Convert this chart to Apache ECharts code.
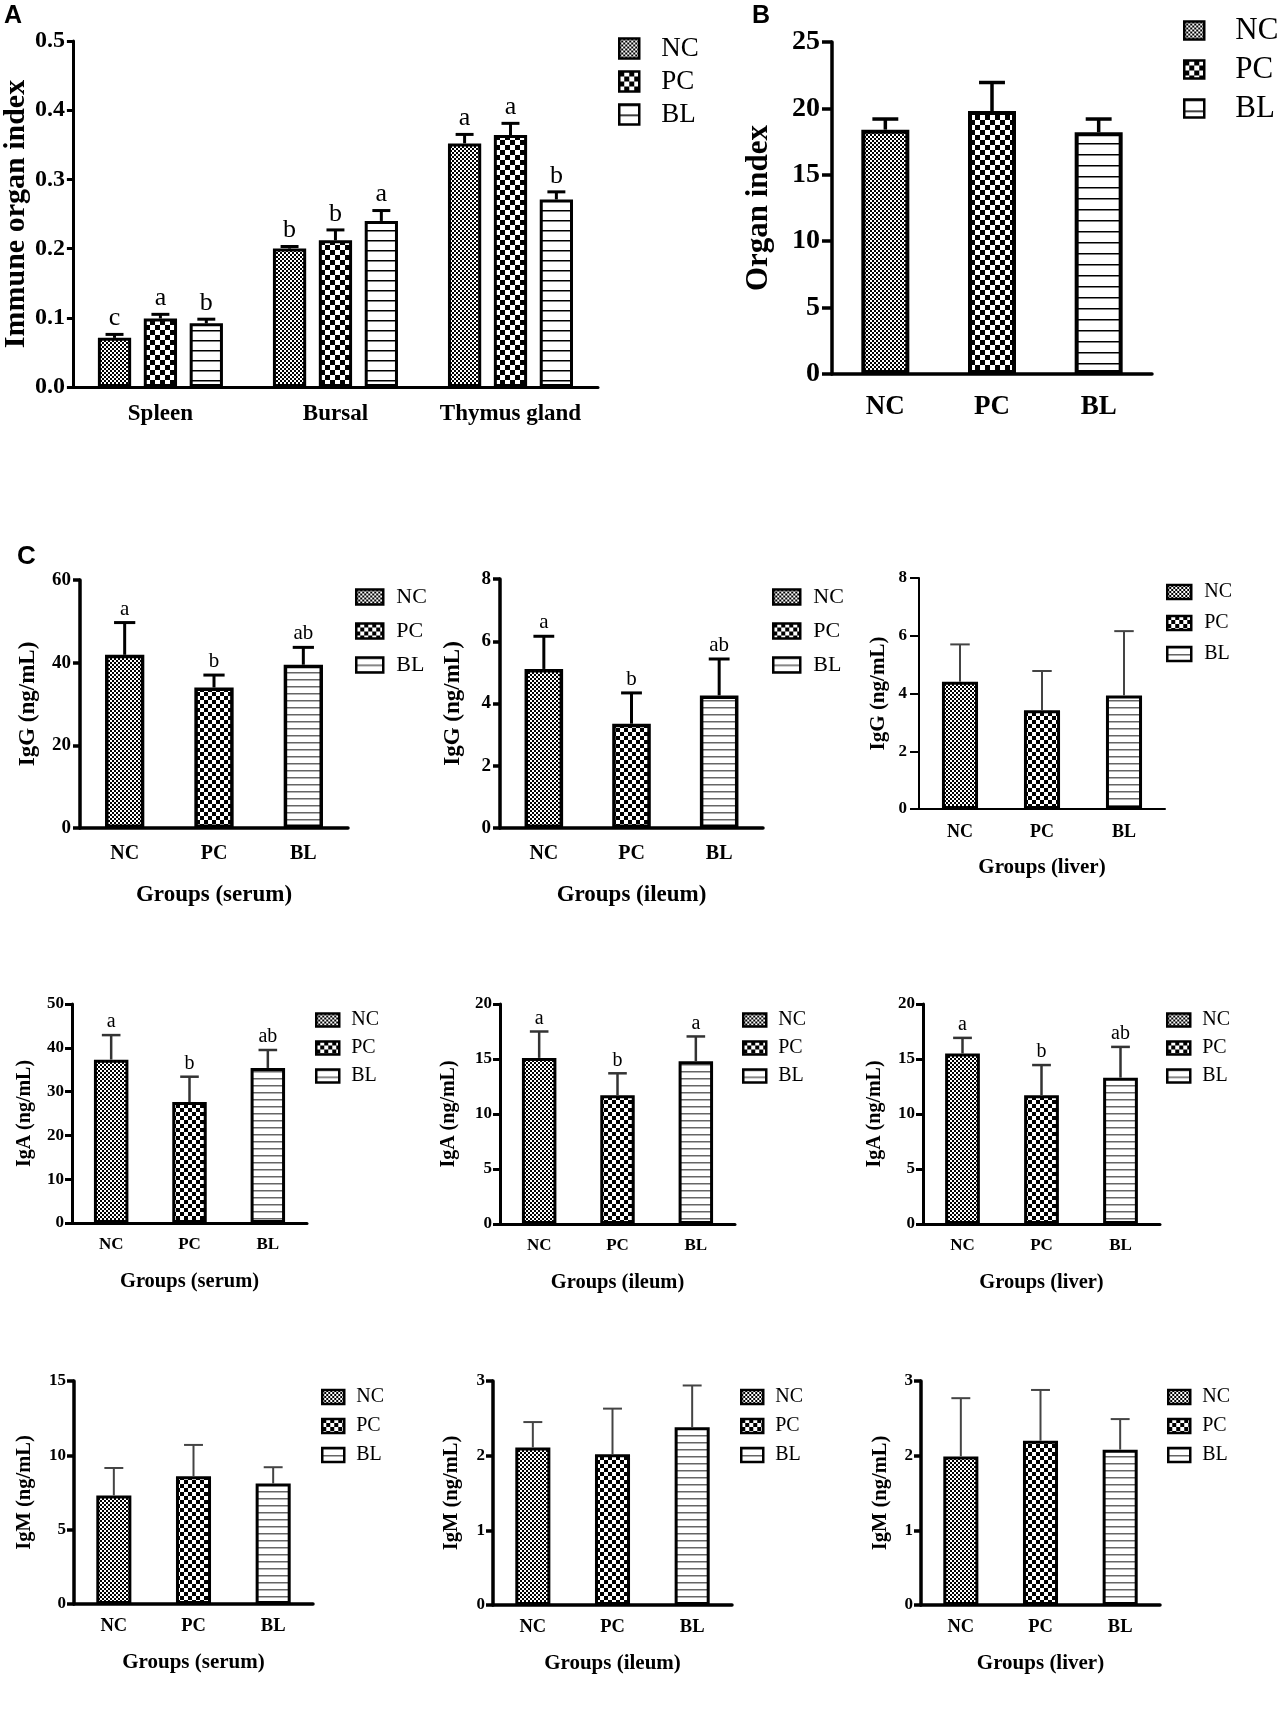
<!DOCTYPE html>
<html>
<head>
<meta charset="utf-8">
<script src="https://cdn.jsdelivr.net/npm/echarts@6/dist/echarts.min.js"></script>
<style>
  html, body { margin: 0; padding: 0; background: #fff; }
  #chart { width: 1280px; height: 1732px; }
</style>
</head>
<body>
<div id="chart"></div>
<script>
// groups and categories
const groups = ['NC', 'PC', 'BL'];
const organs = ['Spleen', 'Bursal', 'Thymus gland'];

// A - immune organ index (spleen, bursal, thymus gland)
const immuneNC = [0.071, 0.200, 0.352];
const immunePC = [0.099, 0.212, 0.364];
const immuneBL = [0.092, 0.240, 0.271];
const immuneErrNC = [0.005, 0.003, 0.013];
const immuneErrPC = [0.006, 0.015, 0.017];
const immuneErrBL = [0.006, 0.015, 0.011];
const immuneLetNC = ['c', 'b', 'a'];
const immuneLetPC = ['a', 'b', 'a'];
const immuneLetBL = ['b', 'a', 'b'];

// B - organ index
const organIdx = [18.4, 19.8, 18.2];
const organErr = [0.8, 2.15, 1.0];

// C - immunoglobulins (NC, PC, BL)
const iggSerum = [41.9, 34.0, 39.5], iggSerumErr = [7.8, 3.0, 4.2], iggSerumLet = ['a', 'b', 'ab'];
const iggIleum = [5.11, 3.35, 4.26], iggIleumErr = [1.05, 0.99, 1.17], iggIleumLet = ['a', 'b', 'ab'];
const iggLiver = [4.41, 3.42, 3.93], iggLiverErr = [1.29, 1.36, 2.23];
const igaSerum = [37.3, 27.6, 35.4], igaSerumErr = [5.6, 5.8, 4.1], igaSerumLet = ['a', 'b', 'ab'];
const igaIleum = [15.1, 11.7, 14.8], igaIleumErr = [2.4, 2.0, 2.25], igaIleumLet = ['a', 'b', 'a'];
const igaLiver = [15.5, 11.7, 13.3], igaLiverErr = [1.42, 2.75, 2.8], igaLiverLet = ['a', 'b', 'ab'];
const igmSerum = [7.3, 8.6, 8.1], igmSerumErr = [1.85, 2.1, 1.1];
const igmIleum = [2.11, 2.02, 2.38], igmIleumErr = [0.34, 0.61, 0.56];
const igmLiver = [1.99, 2.20, 2.08], igmLiverErr = [0.78, 0.68, 0.41];

const SERIF = '"Liberation Serif", "Times New Roman", serif';
const SANS = '"Liberation Sans", Arial, sans-serif';

// fill patterns
function checker(c) {
  const cv = document.createElement('canvas');
  cv.width = cv.height = 2 * c;
  const ctx = cv.getContext('2d');
  ctx.fillStyle = '#fff'; ctx.fillRect(0, 0, 2 * c, 2 * c);
  ctx.fillStyle = '#000'; ctx.fillRect(0, 0, c, c); ctx.fillRect(c, c, c, c);
  return { image: cv, repeat: 'repeat' };
}
function stripes(step, lw, col) {
  const cv = document.createElement('canvas');
  cv.width = 8; cv.height = step;
  const ctx = cv.getContext('2d');
  ctx.fillStyle = '#fff'; ctx.fillRect(0, 0, 8, step);
  ctx.fillStyle = col; ctx.fillRect(0, 0, 8, lw);
  return { image: cv, repeat: 'repeat' };
}
const patA = [checker(2), checker(5), stripes(10, 1.5, '#000')];
const patB = [checker(2), checker(5), stripes(11, 1.5, '#000')];
const patC = [checker(2), checker(4), stripes(7, 1.5, '#666')];

const option = {
  animation: false,
  backgroundColor: '#fff',
  grid: [], xAxis: [], yAxis: [], series: [], legend: [],
  graphic: [
    { type: 'text', left: 4, top: 4, style: { text: 'A', font: 'bold 25px ' + SANS, fill: '#000' } },
    { type: 'text', left: 752, top: 4, style: { text: 'B', font: 'bold 25px ' + SANS, fill: '#000' } },
    { type: 'text', left: 17, top: 544, style: { text: 'C', font: 'bold 26px ' + SANS, fill: '#000' } }
  ]
};

function addAxes(p) {
  const g = option.grid.length;
  const line = { color: '#000', width: p.axisW };
  option.grid.push({ left: p.x0, top: p.y0, width: p.x1 - p.x0, height: p.y1 - p.y0 });
  option.xAxis.push({
    type: 'category', gridIndex: g, data: p.cats,
    name: p.xName || '', nameLocation: 'middle', nameGap: p.xNameGap || 0,
    nameTextStyle: { fontFamily: SERIF, fontWeight: 'bold', fontSize: p.xNameSize || 20, color: '#000' },
    axisLine: { lineStyle: line },
    axisTick: { alignWithLabel: true, length: p.xTick, lineStyle: line },
    axisLabel: { interval: 0, fontFamily: SERIF, fontWeight: 'bold', fontSize: p.catSize, color: '#000', margin: p.catMargin }
  });
  option.yAxis.push({
    type: 'value', gridIndex: g, min: 0, max: p.yMax, interval: p.yStep,
    name: p.yName, nameLocation: 'middle', nameGap: p.yNameGap,
    nameTextStyle: { fontFamily: SERIF, fontWeight: 'bold', fontSize: p.yNameSize, color: '#000' },
    axisLine: { show: true, lineStyle: line },
    axisTick: { show: true, length: p.yTick, lineStyle: line },
    axisLabel: { fontFamily: SERIF, fontWeight: 'bold', fontSize: p.tickSize, color: '#000', margin: p.yMargin, formatter: p.fmt },
    splitLine: { show: false }
  });
  const L = p.leg;
  option.legend.push({
    orient: 'vertical', left: L.left, top: L.top, padding: 0,
    itemWidth: L.w, itemHeight: L.h, itemGap: L.gap, icon: 'rect', selectedMode: false,
    itemStyle: { borderColor: '#000', borderWidth: 2.5 },
    textStyle: { fontFamily: SERIF, fontSize: L.font, color: '#000', padding: [0, 0, 0, L.pad] },
    data: groups.map((n, k) => ({ name: n, itemStyle: { color: p.pats[k] } }))
  });
  return g;
}

// error bars (upper only) plus significance letters
function errorSeries(g, vals, errs, lets, o) {
  return {
    type: 'custom', xAxisIndex: g, yAxisIndex: g, z: 5, silent: true,
    encode: { x: 0, y: 1 },
    data: vals.map((v, i) => [i, v, errs[i]]),
    renderItem: function (params, api) {
      const cat = api.value(0), v = api.value(1), e = api.value(2);
      const band = api.size([1, 0])[0];
      const bw = band * o.frac;
      const base = api.coord([cat, v]);
      const top = api.coord([cat, v + e]);
      const x = base[0] + (o.shift || 0) * bw;
      const half = bw * 0.27;
      const st = { stroke: o.color, lineWidth: o.lw };
      const kids = [
        { type: 'line', shape: { x1: x, y1: base[1], x2: x, y2: top[1] }, style: st },
        { type: 'line', shape: { x1: x - half, y1: top[1], x2: x + half, y2: top[1] }, style: st }
      ];
      if (lets) {
        kids.push({ type: 'text', style: {
          text: lets[params.dataIndex], x: x, y: top[1] - 3,
          align: 'center', verticalAlign: 'bottom',
          fontFamily: SERIF, fontSize: o.letterSize, fill: '#000'
        } });
      }
      return { type: 'group', children: kids };
    }
  };
}

// panel A: grouped bars
(function () {
  const g = addAxes({
    x0: 67, y0: 41, x1: 598, y1: 387, cats: organs, axisW: 3,
    xTick: 12, catSize: 23, catMargin: 16,
    yMax: 0.5, yStep: 0.1, yName: 'Immune organ index', yNameGap: 33, yNameSize: 30,
    yTick: 6, tickSize: 24, yMargin: 8, fmt: v => v.toFixed(1),
    leg: { left: 618, top: 35, w: 20, h: 20, gap: 6, font: 27, pad: 17 }, pats: patA
  });
  const vals = [immuneNC, immunePC, immuneBL];
  const errs = [immuneErrNC, immuneErrPC, immuneErrBL];
  const lets = [immuneLetNC, immuneLetPC, immuneLetBL];
  const frac = 0.19, gap = 0.38;
  groups.forEach((name, k) => {
    option.series.push({
      type: 'bar', name: name, xAxisIndex: g, yAxisIndex: g,
      barWidth: (frac * 100) + '%', barGap: (gap * 100) + '%',
      data: vals[k],
      itemStyle: { color: patA[k], borderColor: '#000', borderWidth: 3 }
    });
  });
  groups.forEach((name, k) => {
    option.series.push(errorSeries(g, vals[k], errs[k], lets[k],
      { frac: frac, shift: (k - 1) * (1 + gap), color: '#000', lw: 3, letterSize: 26 }));
  });
})();

// single-bar-per-group panels
function addSingle(p, vals, errs, lets) {
  const g = addAxes(p);
  groups.forEach((name, k) => {
    option.series.push({
      type: 'bar', name: name, xAxisIndex: g, yAxisIndex: g,
      barWidth: (p.frac * 100) + '%', barGap: '-100%',
      data: vals.map((v, i) => (i === k ? v : '-')),
      itemStyle: { color: p.pats[k], borderColor: '#000', borderWidth: p.border }
    });
  });
  option.series.push(errorSeries(g, vals, errs, lets,
    { frac: p.frac, color: p.errColor, lw: p.errW, letterSize: p.letterSize }));
}

// panel B
addSingle({
  x0: 832, y0: 42, x1: 1152, y1: 374, cats: groups, axisW: 3.5,
  xTick: 13, catSize: 27, catMargin: 20,
  yMax: 25, yStep: 5, yName: 'Organ index', yNameGap: 58, yNameSize: 31,
  yTick: 10, tickSize: 28, yMargin: 12,
  leg: { left: 1183, top: 15, w: 20, h: 18, gap: 8, font: 31, pad: 26 }, pats: patB,
  frac: 0.45, border: 4, errColor: '#000', errW: 3.5, letterSize: 26
}, organIdx, organErr, null);

// panel C
function cPanel(box, yName, xName, yMax, yStep, st) {
  return Object.assign({
    x0: box[0], y0: box[1], x1: box[2], y1: box[3], cats: groups,
    yName: yName, xName: xName, yMax: yMax, yStep: yStep, pats: patC, frac: 0.44
  }, st);
}
const row1 = { axisW: 3.5, xTick: 12, catSize: 20, catMargin: 16, xNameGap: 56, xNameSize: 23,
  yNameSize: 23, yTick: 7, tickSize: 19, yMargin: 9, border: 3.5, errColor: '#000', errW: 3, letterSize: 21 };
const liver1 = { axisW: 2, xTick: 9, catSize: 18, catMargin: 14, xNameGap: 48, xNameSize: 21,
  yNameSize: 21, yTick: 9, tickSize: 17, yMargin: 12, border: 3, errColor: '#444', errW: 2, letterSize: 20 };
const row2 = { axisW: 3, xTick: 11, catSize: 17, catMargin: 13, xNameGap: 48, xNameSize: 20.5,
  yNameSize: 20, yTick: 7, tickSize: 17, yMargin: 8, border: 3, errColor: '#333', errW: 2.5, letterSize: 20 };
const row3 = { axisW: 3.5, xTick: 11, catSize: 18.5, catMargin: 13, xNameGap: 48, xNameSize: 21,
  yNameSize: 20.5, yTick: 7, tickSize: 17, yMargin: 8, border: 3, errColor: '#444', errW: 2, letterSize: 20 };

addSingle(cPanel([80, 580, 348, 828], 'IgG (ng/mL)', 'Groups (serum)', 60, 20,
  Object.assign({}, row1, { yNameGap: 40, leg: { left: 355, top: 586, w: 27, h: 15, gap: 12, font: 22, pad: 8 } })),
  iggSerum, iggSerumErr, iggSerumLet);
addSingle(cPanel([500, 579, 763, 828], 'IgG (ng/mL)', 'Groups (ileum)', 8, 2,
  Object.assign({}, row1, { yNameGap: 35, leg: { left: 772, top: 586, w: 27, h: 15, gap: 12, font: 22, pad: 8 } })),
  iggIleum, iggIleumErr, iggIleumLet);
addSingle(cPanel([919, 578, 1165, 809], 'IgG (ng/mL)', 'Groups (liver)', 8, 2,
  Object.assign({}, liver1, { yNameGap: 30, leg: { left: 1166, top: 582, w: 24, h: 14, gap: 11, font: 20, pad: 8 } })),
  iggLiver, iggLiverErr, null);

addSingle(cPanel([72, 1004, 307, 1223], 'IgA (ng/mL)', 'Groups (serum)', 50, 10,
  Object.assign({}, row2, { yNameGap: 37, leg: { left: 315, top: 1010, w: 23, h: 13, gap: 8, font: 20, pad: 7 } })),
  igaSerum, igaSerumErr, igaSerumLet);
addSingle(cPanel([500, 1004, 735, 1224], 'IgA (ng/mL)', 'Groups (ileum)', 20, 5,
  Object.assign({}, row2, { yNameGap: 41, leg: { left: 742, top: 1010, w: 23, h: 13, gap: 8, font: 20, pad: 7 } })),
  igaIleum, igaIleumErr, igaIleumLet);
addSingle(cPanel([923, 1004, 1160, 1224], 'IgA (ng/mL)', 'Groups (liver)', 20, 5,
  Object.assign({}, row2, { yNameGap: 38, leg: { left: 1166, top: 1010, w: 23, h: 13, gap: 8, font: 20, pad: 7 } })),
  igaLiver, igaLiverErr, igaLiverLet);

addSingle(cPanel([74, 1381, 313, 1604], 'IgM (ng/mL)', 'Groups (serum)', 15, 5,
  Object.assign({}, row3, { yNameGap: 39, leg: { left: 321, top: 1387, w: 22, h: 14, gap: 9, font: 20, pad: 7 } })),
  igmSerum, igmSerumErr, null);
addSingle(cPanel([493, 1381, 732, 1605], 'IgM (ng/mL)', 'Groups (ileum)', 3, 1,
  Object.assign({}, row3, { yNameGap: 31, leg: { left: 740, top: 1387, w: 22, h: 14, gap: 9, font: 20, pad: 7 } })),
  igmIleum, igmIleumErr, null);
addSingle(cPanel([921, 1381, 1160, 1605], 'IgM (ng/mL)', 'Groups (liver)', 3, 1,
  Object.assign({}, row3, { yNameGap: 30, leg: { left: 1167, top: 1387, w: 22, h: 14, gap: 9, font: 20, pad: 7 } })),
  igmLiver, igmLiverErr, null);

const chart = echarts.init(document.getElementById('chart'));
chart.setOption(option);
</script>
</body>
</html>
